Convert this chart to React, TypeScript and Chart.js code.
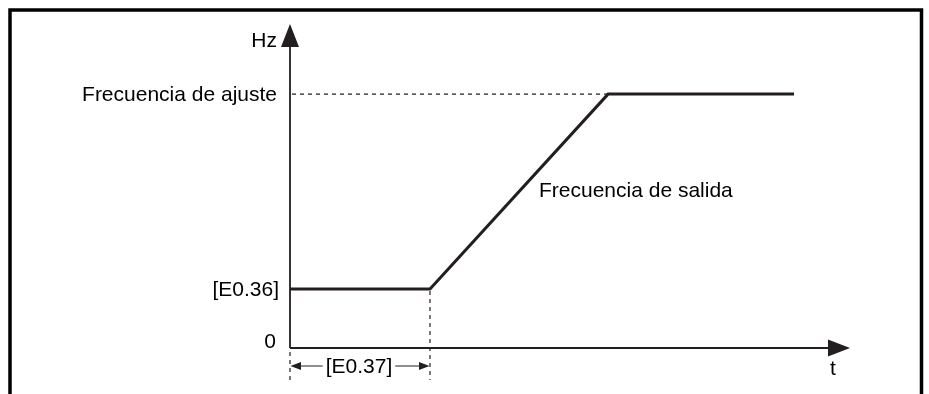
import React, { useEffect, useRef } from "react";
import { Chart, registerables } from "chart.js";

Chart.register(...registerables);

// Time axis (arbitrary units) and output frequency (arbitrary Hz units)
const timePoints = [0, 2.5, 5.68, 9];
const outputFreq = [1.83, 1.83, 7.86, 7.86];
const startFreq = 1.83; // [E0.36]
const setFreq = 7.86; // Frecuencia de ajuste
const holdTime = 2.5; // [E0.37]
const xMax = 10;
const yMax = 10;

const yAxisLabel = "Hz";
const xAxisLabel = "t";
const zeroLabel = "0";
const startFreqLabel = "[E0.36]";
const setFreqLabel = "Frecuencia de ajuste";
const holdTimeLabel = "[E0.37]";
const seriesLabel = "Frecuencia de salida";

const INK = "#231f20";
const FONT = "21px 'Liberation Sans', Arial, sans-serif";

const overlayPlugin = {
  id: "diagramOverlay",
  afterDraw(chart: any) {
    const ctx = chart.ctx as CanvasRenderingContext2D;
    const xs = chart.scales.x;
    const ys = chart.scales.y;
    const x0 = xs.getPixelForValue(0);
    const y0 = ys.getPixelForValue(0);
    const xEnd = xs.getPixelForValue(xMax);
    const yTop = ys.getPixelForValue(yMax) - 1;
    const xHold = xs.getPixelForValue(holdTime);
    const yStart = ys.getPixelForValue(startFreq);
    const ySet = ys.getPixelForValue(setFreq);
    const xRampEnd = xs.getPixelForValue(timePoints[2]);

    ctx.save();
    // outer frame
    ctx.strokeStyle = "#000";
    ctx.lineWidth = 3.5;
    ctx.beginPath();
    ctx.moveTo(10, 400);
    ctx.lineTo(10, 10);
    ctx.lineTo(921.5, 10);
    ctx.lineTo(921.5, 400);
    ctx.stroke();

    // axes
    ctx.strokeStyle = INK;
    ctx.fillStyle = INK;
    ctx.lineWidth = 1.8;
    ctx.beginPath();
    ctx.moveTo(x0, y0);
    ctx.lineTo(x0, yTop + 20);
    ctx.moveTo(x0, y0);
    ctx.lineTo(xEnd - 20, y0);
    ctx.stroke();
    // y arrow
    ctx.beginPath();
    ctx.moveTo(x0, yTop);
    ctx.lineTo(x0 + 9, yTop + 23);
    ctx.lineTo(x0 - 9, yTop + 23);
    ctx.closePath();
    ctx.fill();
    // x arrow
    ctx.beginPath();
    ctx.moveTo(xEnd, y0);
    ctx.lineTo(xEnd - 22, y0 - 8.5);
    ctx.lineTo(xEnd - 22, y0 + 8.5);
    ctx.closePath();
    ctx.fill();

    // dashed guides
    ctx.lineWidth = 1.2;
    ctx.setLineDash([4, 4]);
    ctx.beginPath();
    ctx.moveTo(x0 + 2, ySet);
    ctx.lineTo(xRampEnd, ySet);
    ctx.moveTo(xHold, yStart + 2);
    ctx.lineTo(xHold, 380);
    ctx.moveTo(x0, y0 + 4);
    ctx.lineTo(x0, 380);
    ctx.stroke();
    ctx.setLineDash([]);

    // dimension arrows for hold time
    const yDim = 366;
    ctx.font = FONT;
    const tw = ctx.measureText(holdTimeLabel).width;
    const mid = (x0 + xHold) / 2 - 1;
    ctx.lineWidth = 1;
    ctx.beginPath();
    ctx.moveTo(x0 + 8, yDim);
    ctx.lineTo(mid - tw / 2 - 3, yDim);
    ctx.moveTo(mid + tw / 2 + 3, yDim);
    ctx.lineTo(xHold - 8, yDim);
    ctx.stroke();
    ctx.beginPath();
    ctx.moveTo(x0 + 0.5, yDim);
    ctx.lineTo(x0 + 11, yDim - 4);
    ctx.lineTo(x0 + 11, yDim + 4);
    ctx.closePath();
    ctx.fill();
    ctx.beginPath();
    ctx.moveTo(xHold - 0.5, yDim);
    ctx.lineTo(xHold - 11, yDim - 4);
    ctx.lineTo(xHold - 11, yDim + 4);
    ctx.closePath();
    ctx.fill();

    // texts
    ctx.fillStyle = "#000";
    ctx.textBaseline = "middle";
    ctx.textAlign = "center";
    ctx.fillText(holdTimeLabel, mid, yDim + 1);
    ctx.fillText(xAxisLabel, xEnd - 17, y0 + 21);
    ctx.textAlign = "right";
    ctx.fillText(yAxisLabel, x0 - 13, yTop + 17);
    ctx.fillText(setFreqLabel, x0 - 13, ySet + 1);
    ctx.fillText(startFreqLabel, x0 - 11, yStart + 1);
    ctx.fillText(zeroLabel, x0 - 14, y0 - 6);
    ctx.textAlign = "left";
    ctx.fillText(seriesLabel, 539, 191);
    ctx.restore();
  },
};

export default function App() {
  const ref = useRef<HTMLCanvasElement | null>(null);
  useEffect(() => {
    if (!ref.current) return;
    const chart = new Chart(ref.current, {
      type: "line",
      data: {
        datasets: [
          {
            label: seriesLabel,
            data: timePoints.map((t, i) => ({ x: t, y: outputFreq[i] })),
            borderColor: INK,
            borderWidth: 3,
            pointRadius: 0,
            fill: false,
            tension: 0,
          },
        ],
      },
      options: {
        animation: false,
        responsive: false,
        devicePixelRatio: 1,
        layout: { padding: { left: 290, right: 79, top: 25, bottom: 46 } },
        plugins: { legend: { display: false }, tooltip: { enabled: false } },
        scales: {
          x: { type: "linear", min: 0, max: xMax, display: false },
          y: { type: "linear", min: 0, max: yMax, display: false },
        },
      },
      plugins: [overlayPlugin],
    });
    return () => chart.destroy();
  }, []);
  return (
    <div style={{ position: "absolute", left: 0, top: 0, width: 929, height: 394, background: "#fff" }}>
      <canvas ref={ref} width={929} height={394} style={{ width: 929, height: 394 }} />
    </div>
  );
}
